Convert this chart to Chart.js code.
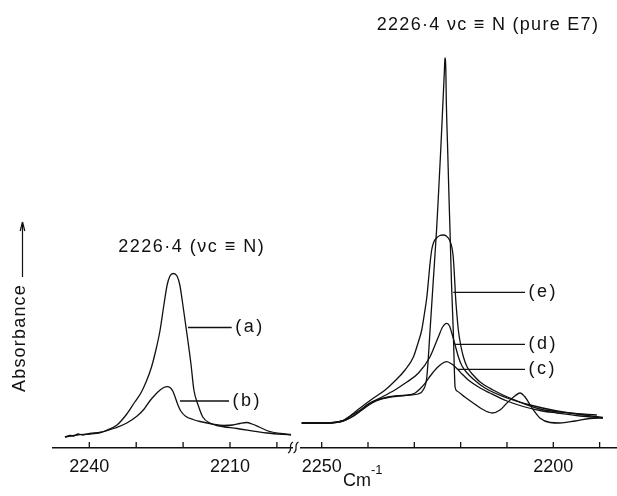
<!DOCTYPE html>
<html>
<head>
<meta charset="utf-8">
<script src="https://cdn.jsdelivr.net/npm/chart.js@4.4.1/dist/chart.umd.min.js"></script>
<style>
  html, body { margin: 0; padding: 0; background: #fff; }
  #wrap { position: relative; width: 617px; height: 496px; overflow: hidden; }
  canvas { position: absolute; top: 0; }
  #left { left: 0; }
  #right { left: 300px; }
</style>
</head>
<body>
<div id="wrap">
  <canvas id="left" width="300" height="496"></canvas>
  <canvas id="right" width="317" height="496"></canvas>
</div>
<script>
// left panel: E7 dissolved, curves (a) and (b)
const waveA = [2245.2, 2242.6, 2239.9, 2237.7, 2236.2, 2234.1, 2232.0, 2230.3, 2229.0, 2227.9, 2226.8, 2225.8, 2224.9, 2224.1, 2223.4, 2222.8, 2222.1, 2221.3, 2220.7, 2220.2, 2219.6, 2219.0, 2218.3, 2217.7, 2216.8, 2215.8, 2214.3, 2212.8, 2208.5, 2202.1, 2197.0];
const absA = [0.11, 0.13, 0.14, 0.155, 0.18, 0.23, 0.34, 0.46, 0.55, 0.66, 0.80, 0.98, 1.18, 1.43, 1.63, 1.72, 1.745, 1.72, 1.63, 1.48, 1.28, 1.08, 0.83, 0.58, 0.43, 0.31, 0.25, 0.225, 0.195, 0.15, 0.13];

const waveB = [2245.2, 2244.1, 2243.3, 2242.4, 2241.3, 2239.9, 2237.7, 2236.4, 2234.5, 2232.0, 2229.8, 2228.3, 2227.1, 2226.0, 2224.9, 2224.1, 2223.4, 2222.8, 2222.2, 2221.7, 2221.1, 2220.5, 2219.4, 2217.9, 2216.4, 2213.8, 2211.3, 2209.4, 2207.9, 2206.4, 2205.3, 2203.8, 2201.9, 2199.3, 2197.0];
const absB = [0.11, 0.125, 0.12, 0.14, 0.13, 0.145, 0.155, 0.17, 0.20, 0.25, 0.32, 0.39, 0.47, 0.53, 0.58, 0.605, 0.613, 0.605, 0.57, 0.51, 0.43, 0.37, 0.315, 0.285, 0.265, 0.24, 0.225, 0.23, 0.245, 0.255, 0.24, 0.21, 0.17, 0.145, 0.135];

// right panel: pure E7 and curves (c), (d), (e)
const waveE7 = [2254.3, 2249.3, 2245.4, 2243.5, 2241.7, 2240.0, 2238.5, 2237.0, 2234.2, 2230.9, 2229.2, 2228.1, 2227.3, 2226.6, 2225.9, 2225.2, 2224.85, 2224.3, 2223.8, 2223.5, 2223.4, 2223.2, 2223.1, 2222.8, 2222.5, 2222.3, 2222.0, 2221.6, 2221.2, 2220.8, 2219.1, 2217.3, 2215.4, 2213.2, 2211.5, 2210.0, 2208.3, 2207.2, 2206.1, 2204.6, 2202.9, 2200.7, 2198.6, 2195.3, 2192.1, 2189.3];
const absE7 = [0.25, 0.25, 0.27, 0.31, 0.37, 0.435, 0.47, 0.495, 0.52, 0.53, 0.54, 0.58, 0.71, 1.18, 1.68, 2.18, 2.48, 2.98, 3.48, 3.78, 3.90, 3.78, 3.48, 2.98, 2.48, 2.18, 1.68, 1.18, 0.61, 0.57, 0.51, 0.45, 0.39, 0.35, 0.38, 0.45, 0.52, 0.55, 0.51, 0.40, 0.30, 0.255, 0.25, 0.27, 0.295, 0.30];

const waveE = [2254.3, 2249.3, 2245.4, 2243.9, 2241.7, 2239.1, 2236.3, 2234.2, 2232.0, 2230.2, 2229.2, 2228.4, 2227.8, 2227.3, 2226.9, 2226.6, 2226.25, 2225.8, 2225.1, 2224.5, 2223.75, 2223.1, 2222.4, 2221.9, 2221.6, 2221.35, 2221.1, 2220.8, 2220.5, 2220.0, 2219.4, 2218.6, 2217.3, 2215.8, 2213.0, 2209.4, 2202.9, 2196.4, 2190.6];
const absE = [0.25, 0.25, 0.275, 0.32, 0.40, 0.49, 0.58, 0.67, 0.78, 0.91, 1.05, 1.18, 1.35, 1.51, 1.70, 1.85, 1.98, 2.06, 2.105, 2.125, 2.13, 2.12, 2.08, 2.01, 1.91, 1.73, 1.51, 1.33, 1.18, 1.03, 0.91, 0.81, 0.73, 0.66, 0.58, 0.50, 0.39, 0.35, 0.33];

const waveD = [2254.3, 2249.3, 2245.4, 2243.9, 2241.7, 2239.6, 2237.0, 2234.2, 2232.0, 2229.15, 2226.6, 2224.8, 2223.9, 2223.0, 2222.4, 2221.9, 2221.2, 2220.5, 2219.7, 2218.6, 2217.3, 2214.75, 2210.0, 2205.0, 2199.2, 2194.2, 2189.3];
const absD = [0.25, 0.25, 0.275, 0.315, 0.38, 0.45, 0.51, 0.58, 0.647, 0.747, 0.913, 1.113, 1.21, 1.247, 1.22, 1.147, 1.03, 0.913, 0.82, 0.75, 0.69, 0.60, 0.50, 0.43, 0.37, 0.335, 0.305];

const waveC = [2254.3, 2249.3, 2245.4, 2243.5, 2241.3, 2239.1, 2237.0, 2234.2, 2232.0, 2229.9, 2228.8, 2227.7, 2226.4, 2225.2, 2224.0, 2223.0, 2222.1, 2221.2, 2220.6, 2219.7, 2218.35, 2215.8, 2213.7, 2210.0, 2206.5, 2202.9, 2199.2, 2194.2, 2189.3];
const absC = [0.25, 0.25, 0.27, 0.31, 0.38, 0.45, 0.49, 0.515, 0.525, 0.547, 0.59, 0.647, 0.73, 0.797, 0.845, 0.863, 0.845, 0.813, 0.785, 0.74, 0.68, 0.60, 0.55, 0.47, 0.415, 0.375, 0.35, 0.32, 0.30];

// axis ticks (cm-1)
const leftTicks = [2240, 2230, 2220, 2210, 2200];
const leftLabels = ['2240', '', '', '2210', ''];
const rightTicks = [2250, 2240, 2230, 2220, 2210, 2200, 2190];
const rightLabels = ['2250', '', '', '', '', '2200', ''];

// curve labels with their leader lines (panel data units)
const leftNotes = [
  { text: '(a)', y: 1.205, from: 2218.96, to: 2209.64 },
  { text: '(b)', y: 0.47, from: 2220.66, to: 2210.21 }
];
const rightNotes = [
  { text: '(e)', y: 1.557, from: 2221.59, to: 2206.11 },
  { text: '(d)', y: 1.037, from: 2221.22, to: 2206.11 },
  { text: '(c)', y: 0.787, from: 2220.57, to: 2206.11 }
];

const ink = '#111';
const FONT = '"Liberation Sans", Arial, sans-serif';

function points(xs, ys) {
  return xs.map((x, i) => ({ x: x, y: ys[i] }));
}

function line(ctx, x0, y0, x1, y1) {
  ctx.beginPath();
  ctx.moveTo(x0, y0);
  ctx.lineTo(x1, y1);
  ctx.stroke();
}

function decor(notes, extra) {
  return {
    id: 'decor',
    afterDraw(chart) {
      const ctx = chart.ctx;
      const xs = chart.scales.x, ys = chart.scales.y;
      const base = chart.chartArea.bottom;
      ctx.save();
      ctx.strokeStyle = ink;
      ctx.fillStyle = ink;
      ctx.lineWidth = 1.3;
      // tick marks point up into the plot
      xs.ticks.forEach(t => {
        const px = xs.getPixelForValue(t.value);
        line(ctx, px, base, px, base - 6);
      });
      ctx.font = '18px ' + FONT;
      ctx.textBaseline = 'middle';
      ctx.textAlign = 'left';
      ctx.letterSpacing = '2.5px';
      notes.forEach(n => {
        const py = ys.getPixelForValue(n.y);
        const x1 = xs.getPixelForValue(n.to);
        line(ctx, xs.getPixelForValue(n.from), py, x1, py);
        ctx.fillText(n.text, x1 + 3.5, py);
      });
      ctx.letterSpacing = '0px';
      extra(ctx, xs, ys, chart);
      ctx.restore();
    }
  };
}

function panel(canvas, datasets, min, max, ticks, labels, pad, plugin) {
  return new Chart(canvas, {
    type: 'line',
    data: { datasets: datasets },
    options: {
      responsive: false,
      animation: false,
      layout: { padding: pad },
      plugins: { legend: { display: false }, tooltip: { enabled: false } },
      elements: {
        point: { radius: 0 },
        line: { borderWidth: 1.3, borderColor: ink, cubicInterpolationMode: 'monotone', fill: false }
      },
      scales: {
        x: {
          type: 'linear',
          reverse: true,
          min: min,
          max: max,
          afterBuildTicks: s => { s.ticks = ticks.map(v => ({ value: v })); },
          afterFit: s => {
            s.height = 48;
            s.paddingLeft = 0;
            s.paddingRight = 0;
          },
          grid: { display: true, drawOnChartArea: false, drawTicks: false },
          border: { display: true, color: ink, width: 1.6 },
          ticks: {
            autoSkip: false,
            maxRotation: 0,
            padding: 8,
            color: ink,
            font: { family: FONT, size: 18 },
            callback: v => labels[ticks.indexOf(v)] || ''
          }
        },
        y: { display: false, min: 0, max: 4.08 }
      }
    },
    plugins: [plugin]
  });
}

const lineStyle = { borderColor: ink, borderWidth: 1.3, pointRadius: 0 };

panel(document.getElementById('left'), [
  Object.assign({ data: points(waveA, absA) }, lineStyle),
  Object.assign({ data: points(waveB, absB) }, lineStyle)
], 2196.78, 2247.74, leftTicks, leftLabels, { left: 53, right: 8, top: 40, bottom: 0 },
  decor(leftNotes, (ctx, xs, ys, chart) => {
    // peak title
    ctx.font = '18px ' + FONT;
    ctx.textAlign = 'center';
    ctx.textBaseline = 'middle';
    ctx.letterSpacing = '1.5px';
    ctx.fillText('2226·4 (νc ≡ N)', xs.getPixelForValue(2218.17), ys.getPixelForValue(2.005));
    ctx.letterSpacing = '0px';
    // y axis title with arrow
    ctx.save();
    ctx.translate(25, 338);
    ctx.rotate(-Math.PI / 2);
    ctx.letterSpacing = '1.2px';
    ctx.textBaseline = 'alphabetic';
    ctx.fillText('Absorbance', 0, 0);
    ctx.restore();
    ctx.lineWidth = 1.2;
    line(ctx, 22.5, 277, 22.5, 222);
    line(ctx, 22.5, 222, 20.2, 231);
    line(ctx, 22.5, 222, 24.8, 231);
    // axis break marks
    const b = chart.chartArea.bottom;
    ctx.lineWidth = 1.2;
    [290.5, 296].forEach(x => {
      ctx.beginPath();
      ctx.moveTo(x + 2.5, b - 6);
      ctx.bezierCurveTo(x - 3, b - 3, x + 3, b + 2, x - 2.5, b + 5);
      ctx.stroke();
    });
  }));

panel(document.getElementById('right'), [
  Object.assign({ data: points(waveE7, absE7) }, lineStyle),
  Object.assign({ data: points(waveE, absE) }, lineStyle),
  Object.assign({ data: points(waveD, absD) }, lineStyle),
  Object.assign({ data: points(waveC, absC) }, lineStyle)
], 2186.25, 2254.68, rightTicks, rightLabels, { left: 0, right: 0, top: 40, bottom: 0 },
  decor(rightNotes, (ctx, xs, ys, chart) => {
    ctx.font = '18px ' + FONT;
    ctx.textAlign = 'center';
    ctx.textBaseline = 'middle';
    ctx.letterSpacing = '1.3px';
    ctx.fillText('2226·4 νc ≡ N (pure E7)', xs.getPixelForValue(2214.1), ys.getPixelForValue(4.225));
    ctx.letterSpacing = '0px';
    // x axis unit
    const left = chart.chartArea.left;
    ctx.textAlign = 'left';
    ctx.textBaseline = 'alphabetic';
    ctx.fillText('Cm', left + 43, 486);
    ctx.font = '13px ' + FONT;
    ctx.fillText('-1', left + 71, 474);
  }));
</script>
</body>
</html>
